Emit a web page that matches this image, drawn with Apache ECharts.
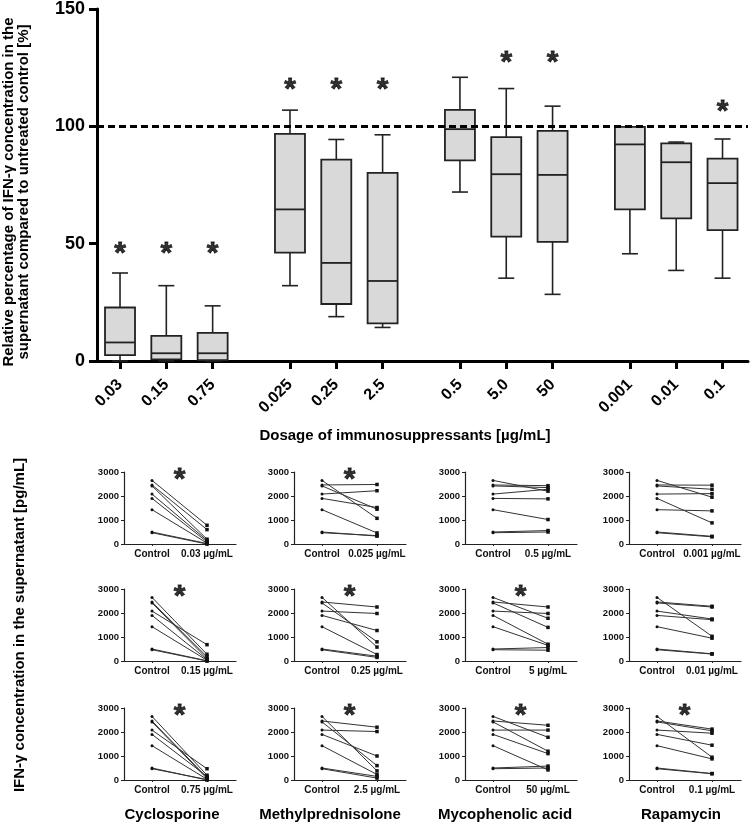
<!DOCTYPE html>
<html>
<head>
<meta charset="utf-8">
<script src="https://cdn.jsdelivr.net/npm/echarts@6/dist/echarts.min.js"></script>
<style>
html, body { margin: 0; padding: 0; background: #fff; }
#chart { width: 750px; height: 825px; }
</style>
</head>
<body>
<div id="chart"></div>
<script>
// ---- top panel: relative IFN-g (% of untreated control) ----
var doseLabels = ['0.03', '0.15', '0.75', '0.025', '0.25', '2.5', '0.5', '5.0', '50', '0.001', '0.01', '0.1'];
var boxMin    = [0,    0,    0,    32.1, 18.9, 14.3, 72.0,  35.3,  28.4,  45.7, 38.6, 35.3];
var boxQ1     = [2.5,  0.7,  0.4,  46.2, 24.3, 16.0, 85.5,  53.0,  50.8,  64.6, 60.8, 55.8];
var boxMedian = [7.9,  3.3,  3.3,  64.6, 41.8, 34.1, 98.8,  79.6,  79.3,  92.3, 84.7, 75.8];
var boxQ3     = [22.8, 10.7, 12.0, 96.8, 85.8, 80.2, 107.0, 95.4,  98.1,  99.8, 92.7, 86.2];
var boxMax    = [37.5, 32.1, 23.5, 106.9, 94.4, 96.4, 120.9, 116.1, 108.6, 99.8, 93.3, 94.6];
var starLevel = [49, 49, 49, 119, 119, 119, null, 130.5, 130.5, null, null, 109.5];

// ---- bottom panels: IFN-g in pg/mL, control vs treated, same donors ----
var drugs = ['Cyclosporine', 'Methylprednisolone', 'Mycophenolic acid', 'Rapamycin'];
var panelDoses = [
    ['0.03 µg/mL', '0.15 µg/mL', '0.75 µg/mL'],
    ['0.025 µg/mL', '0.25 µg/mL', '2.5 µg/mL'],
    ['0.5 µg/mL', '5 µg/mL', '50 µg/mL'],
    ['0.001 µg/mL', '0.01 µg/mL', '0.1 µg/mL']
];
var controlValues = [2650, 2460, 2420, 2080, 1900, 1430, 500, 470];
var treatedValues = [
    [
        [780, 600, 200, 150, 90, 40, 20, 0],
        [280, 180, 100, 680, 60, 30, 10, 0],
        [200, 100, 60, 470, 150, 30, 0, 20]
    ],
    [
        [1070, 2480, 1450, 2220, 1520, 460, 330, 350],
        [580, 2250, 800, 1980, 1270, 270, 200, 150],
        [380, 2200, 600, 2020, 1000, 230, 150, 80]
    ],
    [
        [2200, 2430, 2350, 2280, 1880, 1020, 560, 500],
        [1780, 2250, 1400, 1980, 700, 650, 560, 450],
        [1780, 2280, 1200, 2080, 1100, 420, 580, 500]
    ],
    [
        [1950, 2450, 2280, 2100, 880, 1380, 320, 300],
        [1030, 2280, 2250, 1750, 1720, 950, 300, 290],
        [950, 2120, 2050, 1950, 1450, 880, 270, 260]
    ]
];
var panelStar = [
    [true, true, true],
    [true, true, true],
    [false, true, true],
    [false, false, true]
];

var FONT = 'Liberation Sans, Arial, sans-serif';
var GROUP_GAP = 3.67;   // distance between first boxes of two drug groups, in box steps

// box x positions: 3 doses per drug, wider gap between drugs
var boxPos = doseLabels.map(function(l, i){
    return Math.floor(i / 3) * GROUP_GAP + (i % 3);
});

var starLabel = {
    show: true, position: 'inside', formatter: '*', offset: [0, 8],
    fontFamily: FONT, fontWeight: 'bold', fontSize: 30, color: '#000',
    textBorderColor: '#000', textBorderWidth: 0.8
};

var grids = [{ left: 97, top: 7, width: 651, height: 354 }];
var xAxes = [{
    type: 'value', gridIndex: 0, min: -0.497, max: 13.56,
    axisLine: { lineStyle: { color: '#000', width: 3 } },
    axisTick: { customValues: boxPos, length: 8, lineStyle: { color: '#000', width: 3 } },
    axisLabel: {
        customValues: boxPos, rotate: 45, margin: 21,
        fontFamily: FONT, fontWeight: 'bold', fontSize: 16, color: '#000',
        formatter: function(v){
            for(let i = 0; i < boxPos.length; i++){
                if(Math.abs(boxPos[i] - v) < 1e-6) return doseLabels[i];
            }
            return '';
        }
    },
    splitLine: { show: false }
}];
var yAxes = [{
    type: 'value', gridIndex: 0, min: 0, max: 150, interval: 50,
    axisLine: { show: true, onZero: false, lineStyle: { color: '#000', width: 3 } },
    axisTick: { show: true, length: 8, lineStyle: { color: '#000', width: 3 } },
    axisLabel: { margin: 12, fontFamily: FONT, fontWeight: 'bold', fontSize: 18, color: '#000' },
    splitLine: { show: false }
}];

var boxData = [];
for(let i = 0; i < boxPos.length; i++){
    boxData.push([boxPos[i], boxMin[i], boxQ1[i], boxMedian[i], boxQ3[i], boxMax[i]]);
}
var starData = [];
for(let i = 0; i < boxPos.length; i++){
    if(starLevel[i] != null) starData.push([boxPos[i], starLevel[i]]);
}

function renderBox(params, api){
    let x = api.value(0);
    let pMin = api.coord([x, api.value(1)]);
    let pQ1 = api.coord([x, api.value(2)]);
    let pMed = api.coord([x, api.value(3)]);
    let pQ3 = api.coord([x, api.value(4)]);
    let pMax = api.coord([x, api.value(5)]);
    let cx = pMin[0], hw = 15, cw = 8;
    let line = { stroke: '#222', lineWidth: 1.6 };
    return {
        type: 'group',
        children: [
            { type: 'line', shape: { x1: cx, y1: pMax[1], x2: cx, y2: pQ3[1] }, style: line },
            { type: 'line', shape: { x1: cx, y1: pQ1[1], x2: cx, y2: pMin[1] }, style: line },
            { type: 'line', shape: { x1: cx - cw, y1: pMax[1], x2: cx + cw, y2: pMax[1] }, style: line },
            { type: 'line', shape: { x1: cx - cw, y1: pMin[1], x2: cx + cw, y2: pMin[1] }, style: line },
            { type: 'rect', shape: { x: cx - hw, y: pQ3[1], width: 2 * hw, height: pQ1[1] - pQ3[1] },
              style: { fill: '#d9d9d9', stroke: '#222', lineWidth: 1.8 } },
            { type: 'line', shape: { x1: cx - hw, y1: pMed[1], x2: cx + hw, y2: pMed[1] }, style: { stroke: '#222', lineWidth: 1.8 } }
        ]
    };
}

var series = [
    {
        type: 'custom', xAxisIndex: 0, yAxisIndex: 0,
        renderItem: renderBox, data: boxData, silent: true,
        markLine: {
            silent: true, symbol: 'none', label: { show: false },
            lineStyle: { color: '#000', width: 3, type: [7, 4] },
            data: [{ yAxis: 100 }]
        }
    },
    {
        type: 'scatter', xAxisIndex: 0, yAxisIndex: 0, data: starData,
        symbolSize: 1, itemStyle: { color: 'rgba(0,0,0,0)' }, silent: true,
        label: starLabel
    }
];

// small panels layout
var colControlX = [152, 322, 493, 657];
var rowTop = [472, 589, 708];
var PANEL_W = 112, PANEL_H = 72, CTRL_OFF = 28, STEP = 55;

var graphics = [];
for(let c = 0; c < drugs.length; c++){
    for(let r = 0; r < 3; r++){
        let k = grids.length;
        grids.push({ left: colControlX[c] - CTRL_OFF, top: rowTop[r], width: PANEL_W, height: PANEL_H });
        let labels = ['Control', panelDoses[c][r]];
        xAxes.push({
            type: 'value', gridIndex: k,
            min: -CTRL_OFF / STEP, max: (PANEL_W - CTRL_OFF) / STEP,
            axisLine: { lineStyle: { color: '#222', width: 1.2 } },
            axisTick: { customValues: [0, 1], length: 2, lineStyle: { color: '#222', width: 1 } },
            axisLabel: {
                customValues: [0, 1], margin: 5,
                fontFamily: FONT, fontWeight: 'bold', fontSize: 10, color: '#111',
                formatter: function(v){ return labels[Math.round(v)]; }
            },
            splitLine: { show: false }
        });
        yAxes.push({
            type: 'value', gridIndex: k, min: 0, max: 3000, interval: 1000,
            axisLine: { show: true, onZero: false, lineStyle: { color: '#222', width: 1.2 } },
            axisTick: { show: true, length: 3, lineStyle: { color: '#222', width: 1 } },
            axisLabel: { margin: 5, fontFamily: FONT, fontWeight: 'bold', fontSize: 9.5, color: '#111',
                         formatter: function(v){ return String(v); } },
            splitLine: { show: false }
        });
        let treated = treatedValues[c][r];
        for(let d = 0; d < controlValues.length; d++){
            series.push({
                type: 'line', xAxisIndex: k, yAxisIndex: k, silent: true,
                lineStyle: { color: '#333', width: 1 },
                itemStyle: { color: '#111' },
                data: [
                    { value: [0, controlValues[d]], symbol: 'circle', symbolSize: 3 },
                    { value: [1, treated[d]], symbol: 'rect', symbolSize: 3.5 }
                ]
            });
        }
        if(panelStar[c][r]){
            series.push({
                type: 'scatter', xAxisIndex: k, yAxisIndex: k, data: [[0.5, 3000]],
                symbolSize: 1, itemStyle: { color: 'rgba(0,0,0,0)' }, silent: true,
                label: starLabel
            });
        }
    }
}

var drugCenterX = [172, 330, 505, 681];
drugs.forEach(function(name, c){
    graphics.push({
        type: 'text', x: drugCenterX[c], y: 815,
        style: { text: name, font: 'bold 15px ' + FONT, fill: '#000', align: 'center', verticalAlign: 'middle' }
    });
});
graphics.push({
    type: 'text', x: 16, y: 192, rotation: Math.PI / 2,
    style: {
        text: 'Relative percentage of IFN-γ concentration in the\nsupernatant compared to untreated control [%]',
        font: 'bold 15px ' + FONT, fill: '#000', align: 'center', verticalAlign: 'middle', lineHeight: 15
    }
});
graphics.push({
    type: 'text', x: 405, y: 436,
    style: { text: 'Dosage of immunosuppressants [µg/mL]', font: 'bold 15px ' + FONT, fill: '#000',
             align: 'center', verticalAlign: 'middle' }
});
graphics.push({
    type: 'text', x: 20, y: 625, rotation: Math.PI / 2,
    style: { text: 'IFN-γ concentration in the supernatant [pg/mL]', font: 'bold 15px ' + FONT, fill: '#000',
             align: 'center', verticalAlign: 'middle' }
});

var chart = echarts.init(document.getElementById('chart'));
chart.setOption({
    backgroundColor: '#fff',
    animation: false,
    grid: grids,
    xAxis: xAxes,
    yAxis: yAxes,
    series: series,
    graphic: graphics
});
</script>
</body>
</html>
